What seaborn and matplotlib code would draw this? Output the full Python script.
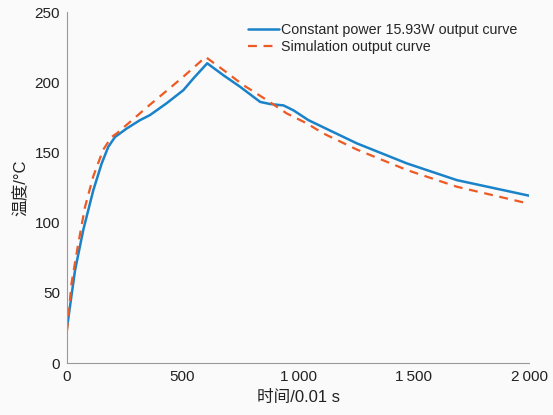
import numpy as np
import pandas as pd
import matplotlib
matplotlib.use("Agg")
import matplotlib.pyplot as plt
import seaborn as sns

# values
blue_t = [0, 35, 71, 114, 150, 179, 208, 258, 316, 359, 431, 504, 547, 607,
          677, 749, 836, 879, 937, 980, 1045, 1074, 1254, 1471, 1687, 2000]
blue_T = [24.7, 66, 95, 123, 142, 154, 161, 167, 173, 176.6, 185, 194.4, 202.7, 213.5,
          205, 196.8, 186, 184.5, 183.5, 180, 173, 170.7, 156.5, 142.2, 130.3, 119.2]

red_t = [0, 20, 49, 78, 114, 157, 193, 215, 359, 403, 504, 600, 677, 763, 865,
         951, 1038, 1110, 1254, 1471, 1687, 1961, 2000]
red_T = [22.3, 57, 85, 111, 133, 152, 161, 163.5, 184, 190, 204, 218, 208.7, 198, 187.3,
         177.8, 170.7, 163.5, 152.1, 137.5, 125.6, 115, 113.5]

blue_label = "Constant power 15.93W output curve"
red_label = "Simulation output curve"

x_ticks = [0, 500, 1000, 1500, 2000]
x_tick_labels = ["0", "500", "1\u2009000", "1\u2009500", "2\u2009000"]
y_ticks = [0, 50, 100, 150, 200, 250]

sns.set_style("white")
plt.rcParams['font.family'] = ['Liberation Sans', 'Noto Sans CJK SC', 'DejaVu Sans']

fig = plt.figure(figsize=(5.53, 4.15), dpi=100, facecolor="#fafafa")
ax = fig.add_axes([0.121, 0.125, 0.836, 0.846])
ax.set_facecolor("#fafafa")

df_b = pd.DataFrame({"t": blue_t, "T": blue_T})
df_r = pd.DataFrame({"t": red_t, "T": red_T})
sns.lineplot(data=df_b, x="t", y="T", ax=ax, color="#1a82c8", lw=1.8, label=blue_label)
sns.lineplot(data=df_r, x="t", y="T", ax=ax, color="#ee5a24", lw=1.6, ls=(0, (4, 3)),
             label=red_label)

ax.set_xlim(0, 2000)
ax.set_ylim(0, 250)
ax.set_xticks(x_ticks)
ax.set_xticklabels(x_tick_labels)
ax.set_yticks(y_ticks)
ax.tick_params(direction="in", length=4, width=0.8, color="#555555",
               labelsize=11, labelcolor="#222222", pad=5)
for s in ["top", "right"]:
    ax.spines[s].set_visible(False)
for s in ["left", "bottom"]:
    ax.spines[s].set_color("#999999")
    ax.spines[s].set_linewidth(0.8)

ax.set_xlabel("时间/0.01 s", fontsize=12, color="#222222", labelpad=4)
ax.set_ylabel("温度/°C", fontsize=12, color="#222222", labelpad=4)

leg = ax.legend(loc="upper right", frameon=False, fontsize=10.3, handlelength=2.2,
                handletextpad=0.15, borderaxespad=0.4, labelspacing=0.2)

fig.savefig("out.png", dpi=100, facecolor=fig.get_facecolor())
